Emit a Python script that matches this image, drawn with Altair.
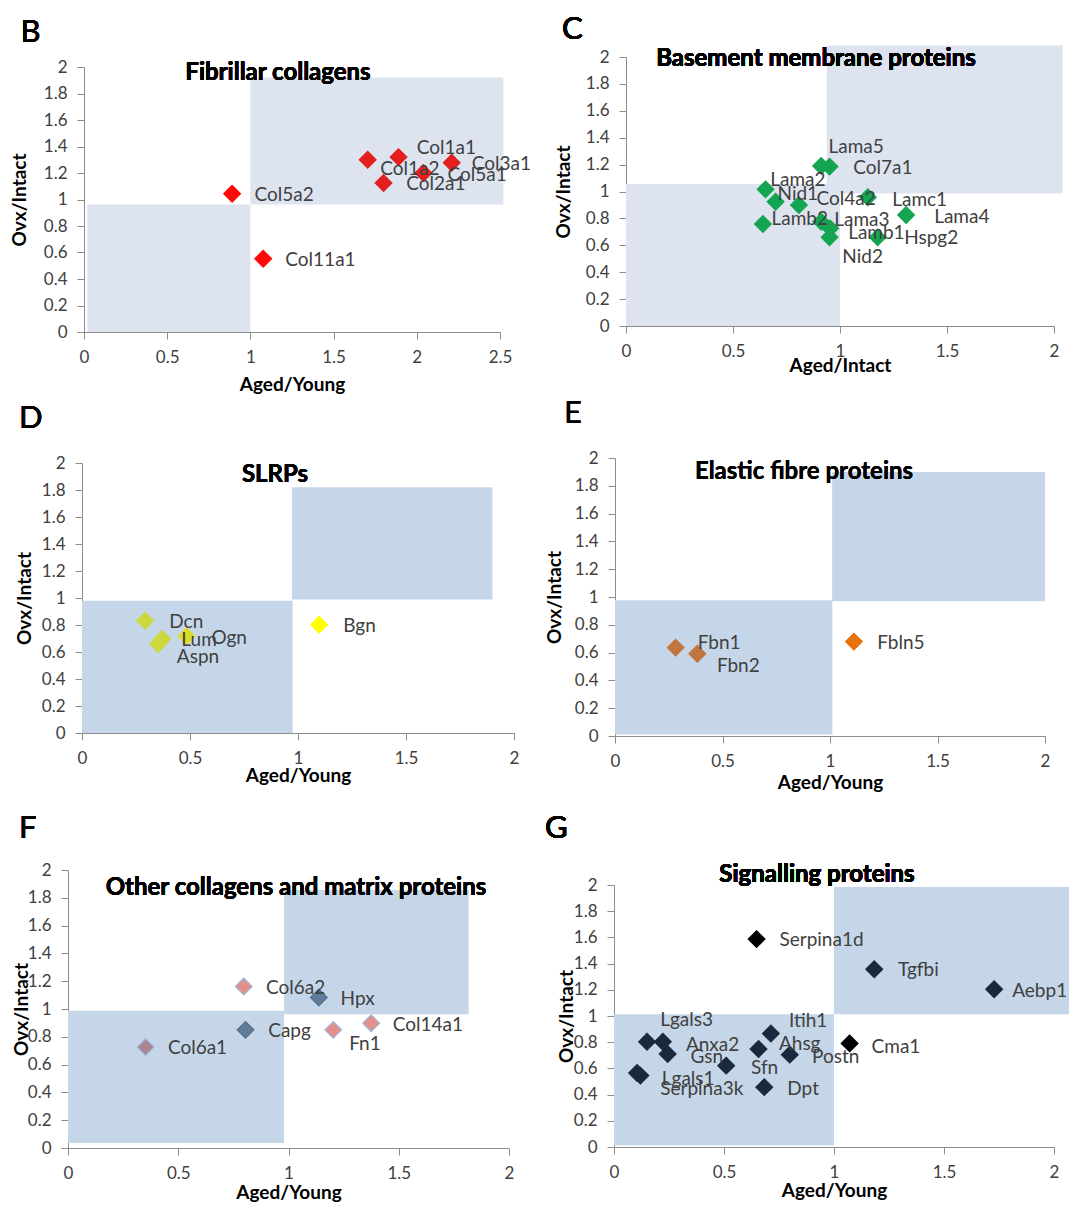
import altair as alt
import pandas as pd

FONT = "Lato"
AXIS_GREY = "#8c8c8c"
TEXT_GREY = "#404040"
BOX_LIGHT = "#dde4f0"
BOX_MID = "#c6d6e9"

# ---------------- data ----------------
# Panel B - Fibrillar collagens
B_genes = ["Col1a1", "Col1a2", "Col2a1", "Col3a1", "Col5a1", "Col5a2", "Col11a1"]
B_aged = [1.89, 1.705, 1.80, 2.21, 2.04, 0.89, 1.077]
B_ovx = [1.32, 1.30, 1.125, 1.278, 1.20, 1.044, 0.553]
B_fill = ["#e3201e", "#e3201e", "#e3201e", "#e3201e", "#e3201e", "#ff0a0a", "#ff0a0a"]
B_lab_x = [2.0, 1.78, 1.937, 2.33, 2.185, 1.025, 1.21]
B_lab_y = [1.39, 1.233, 1.12, 1.27, 1.182, 1.031, 0.541]
B_box_x1 = [0.02, 1.0]
B_box_x2 = [1.0, 2.52]
B_box_y1 = [0.0, 0.963]
B_box_y2 = [0.963, 1.92]

# Panel C - Basement membrane proteins
C_genes = ["Lama2", "Nid1", "Col4a2", "Lamb2", "Lama5", "Col7a1", "Lamc1", "Lama4",
           "Lama3", "Lamb1", "Nid2", "Hspg2"]
C_aged = [0.652, 0.699, 0.808, 0.64, 0.912, 0.951, 1.13, 1.309, 0.912, 0.954, 0.951, 1.176]
C_ovx = [1.016, 0.924, 0.899, 0.758, 1.19, 1.185, 0.957, 0.825, 0.775, 0.726, 0.659, 0.659]
C_fill = ["#14a550"] * 12
C_lab_x = [0.674, 0.708, 0.89, 0.68, 0.946, 1.062, 1.244, 1.44, 0.973, 1.038, 1.011, 1.30]
C_lab_y = [1.086, 0.979, 0.942, 0.795, 1.334, 1.173, 0.937, 0.812, 0.788, 0.689, 0.514, 0.656]
C_box_x1 = [0.0, 0.938]
C_box_x2 = [1.0, 2.04]
C_box_y1 = [0.0, 0.986]
C_box_y2 = [1.056, 2.085]

# Panel D - SLRPs
D_genes = ["Dcn", "Lum", "Aspn", "Ogn", "Bgn"]
D_aged = [0.292, 0.372, 0.353, 0.484, 1.098]
D_ovx = [0.832, 0.696, 0.659, 0.716, 0.802]
D_fill = ["#cbd93f", "#cbd93f", "#cbd93f", "#dcdc2a", "#ffff00"]
D_lab_x = [0.404, 0.46, 0.439, 0.599, 1.21]
D_lab_y = [0.82, 0.69, 0.563, 0.704, 0.79]
D_box_x1 = [0.0, 0.972]
D_box_x2 = [0.975, 1.9]
D_box_y1 = [0.0, 0.988]
D_box_y2 = [0.98, 1.82]

# Panel E - Elastic fibre proteins
E_genes = ["Fbn1", "Fbn2", "Fbln5"]
E_aged = [0.282, 0.383, 1.111]
E_ovx = [0.636, 0.592, 0.679]
E_fill = ["#c0763e", "#c0763e", "#e8720c"]
E_lab_x = [0.385, 0.474, 1.22]
E_lab_y = [0.669, 0.504, 0.669]
E_box_x1 = [0.0, 1.01]
E_box_x2 = [1.011, 2.0]
E_box_y1 = [0.01, 0.97]
E_box_y2 = [0.976, 1.90]

# Panel F - Other collagens and matrix proteins
F_genes = ["Col6a2", "Hpx", "Capg", "Fn1", "Col14a1", "Col6a1"]
F_aged = [0.797, 1.1375, 0.805, 1.203, 1.375, 0.352]
F_ovx = [1.162, 1.083, 0.85, 0.85, 0.898, 0.726]
F_fill = ["#e0918c", "#617c98", "#617c98", "#e0918c", "#e0918c", "#a9858f"]
F_edge = ["#9fb5da", "#52708f", "#52708f", "#9fb5da", "#9fb5da", "#9fb5da"]
F_lab_x = [0.898, 1.236, 0.908, 1.275, 1.473, 0.453]
F_lab_y = [1.15, 1.071, 0.843, 0.747, 0.886, 0.719]
F_box_x1 = [0.0, 0.98]
F_box_x2 = [0.98, 1.817]
F_box_y1 = [0.036, 0.963]
F_box_y2 = [0.987, 1.856]

# Panel G - Signalling proteins
G_genes = ["Serpina1d", "Tgfbi", "Aebp1", "Cma1", "Lgals3", "Anxa2", "Gsn", "Lgals1",
           "Serpina3k", "Sfn", "Ahsg", "Itih1", "Postn", "Dpt"]
G_aged = [0.648, 1.183, 1.728, 1.071, 0.15, 0.222, 0.244, 0.105, 0.12, 0.51, 0.657, 0.713,
          0.799, 0.683]
G_ovx = [1.587, 1.357, 1.204, 0.791, 0.803, 0.803, 0.71, 0.565, 0.545, 0.621, 0.748, 0.866,
         0.705, 0.457]
G_fill = ["#000000", "#1a2a3c", "#1a2a3c", "#000000"] + ["#1a2a3c"] * 10
G_lab_x = [0.752, 1.291, 1.81, 1.171, 0.21, 0.327, 0.348, 0.217, 0.21, 0.623, 0.75, 0.795,
           0.90, 0.788]
G_lab_y = [1.582, 1.352, 1.194, 0.765, 0.967, 0.778, 0.689, 0.52, 0.445, 0.604, 0.786, 0.962,
           0.689, 0.445]
G_box_x1 = [0.0, 1.0]
G_box_x2 = [1.0, 2.07]
G_box_y1 = [0.013, 1.013]
G_box_y2 = [1.013, 1.985]

Y_TICKS = [0, 0.2, 0.4, 0.6, 0.8, 1, 1.2, 1.4, 1.6, 1.8, 2]
X_TICKS_25 = [0, 0.5, 1, 1.5, 2, 2.5]
X_TICKS_2 = [0, 0.5, 1, 1.5, 2]

# ---------------- layout (page pixels) ----------------
MARGIN = 8
W, H = 1061, 1197


def panel(letter, title, xtitle, xmax, xticks, genes, xs, ys, fills, edges, lx, ly,
          bx1, bx2, by1, by2, box_color, frame, letter_xy, title_xy, xpad, ypad):
    L, T, R, Bt = [v - MARGIN for v in frame]
    pts = pd.DataFrame({"gene": genes, "x": xs, "y": ys, "fill": fills, "edge": edges,
                        "lx": lx, "ly": ly})
    boxes = pd.DataFrame({"x1": bx1, "x2": bx2, "y1": by1, "y2": by2})
    xs_ = alt.Scale(domain=[0, xmax], range=[L, R], nice=False, zero=False)
    ys_ = alt.Scale(domain=[0, 2], range=[Bt, T], nice=False, zero=False)
    common = dict(grid=False, domainColor=AXIS_GREY, tickColor=AXIS_GREY, tickSize=7,
                  labelFont=FONT, labelFontSize=17, labelColor=TEXT_GREY, labelPadding=10,
                  labelFlush=False, labelOverlap=False, format="~g",
                  titleFont=FONT, titleFontSize=19, titleFontWeight="bold", titleColor="#000000")
    xaxis = alt.Axis(values=xticks, orient="bottom", offset=Bt - H, titlePadding=xpad, **common)
    yaxis = alt.Axis(values=Y_TICKS, orient="left", offset=-L, titlePadding=ypad, **common)

    rects = alt.Chart(boxes).mark_rect(color=box_color).encode(
        x=alt.X("x1:Q", scale=xs_, axis=xaxis, title=xtitle),
        x2="x2",
        y=alt.Y("y1:Q", scale=ys_, axis=yaxis, title="Ovx/Intact"),
        y2="y2",
    )
    dots = alt.Chart(pts).mark_point(shape="diamond", filled=True, size=280, opacity=1,
                                     strokeWidth=1.2).encode(
        x=alt.X("x:Q", scale=xs_, axis=None),
        y=alt.Y("y:Q", scale=ys_, axis=None),
        fill=alt.Fill("fill:N", scale=None),
        stroke=alt.Stroke("edge:N", scale=None),
    )
    labels = alt.Chart(pts).mark_text(align="left", baseline="middle", font=FONT,
                                      fontSize=19, color=TEXT_GREY).encode(
        x=alt.X("lx:Q", scale=xs_, axis=None),
        y=alt.Y("ly:Q", scale=ys_, axis=None),
        text="gene:N",
    )
    ttl = alt.Chart(pts).mark_text(text=title, align="center", baseline="middle", font=FONT,
                                   fontSize=24, fontWeight="bold",
                                   color="#000000").encode(
        x=alt.value(title_xy[0] - MARGIN), y=alt.value(title_xy[1] - MARGIN))
    let = alt.Chart(pts).mark_text(text=letter, align="left", baseline="alphabetic",
                                   font=FONT, fontSize=31, color="#000000").encode(
        x=alt.value(letter_xy[0] - MARGIN), y=alt.value(letter_xy[1] - MARGIN))
    return [rects, dots, labels, ttl, let]


layers = []
layers += panel("B", "Fibrillar collagens", "Aged/Young", 2.5, X_TICKS_25, B_genes, B_aged,
                B_ovx, B_fill, B_fill, B_lab_x, B_lab_y, B_box_x1, B_box_x2, B_box_y1,
                B_box_y2, BOX_LIGHT, (84, 67, 500, 332), (20.5, 42), (278, 73.3), 10.5, 14)
layers += panel("C", "Basement membrane proteins", "Aged/Intact", 2, X_TICKS_2, C_genes,
                C_aged, C_ovx, C_fill, C_fill, C_lab_x, C_lab_y, C_box_x1, C_box_x2, C_box_y1,
                C_box_y2, BOX_LIGHT, (626, 57, 1054, 326), (562, 39), (816, 59.3), -2.5, 12)
layers += panel("D", "SLRPs", "Aged/Young", 2, X_TICKS_2, D_genes, D_aged, D_ovx, D_fill,
                D_fill, D_lab_x, D_lab_y, D_box_x1, D_box_x2, D_box_y1, D_box_y2, BOX_MID,
                (82, 463, 514, 733), (19, 428), (275, 475), 0, 7)
layers += panel("E", "Elastic fibre proteins", "Aged/Young", 2, X_TICKS_2, E_genes, E_aged,
                E_ovx, E_fill, E_fill, E_lab_x, E_lab_y, E_box_x1, E_box_x2, E_box_y1,
                E_box_y2, BOX_MID, (615, 458, 1045, 736), (564, 423), (804, 471.7), 4, 10)
layers += panel("F", "Other collagens and matrix proteins", "Aged/Young", 2, X_TICKS_2,
                F_genes, F_aged, F_ovx, F_fill, F_edge, F_lab_x, F_lab_y, F_box_x1, F_box_x2,
                F_box_y1, F_box_y2, BOX_MID, (68, 870, 509, 1148), (19, 838), (296, 888.3),
                2, -4)
layers += panel("G", "Signalling proteins", "Aged/Young", 2, X_TICKS_2, G_genes, G_aged,
                G_ovx, G_fill, G_fill, G_lab_x, G_lab_y, G_box_x1, G_box_x2, G_box_y1,
                G_box_y2, BOX_MID, (614, 885, 1054, 1147), (545, 838), (817, 875), 1, -3)

chart = alt.layer(*layers).resolve_scale(x="independent", y="independent").resolve_axis(
    x="independent", y="independent").properties(
    width=W, height=H, padding=0, autosize=alt.AutoSizeParams(type="none")
).configure_view(stroke=None)

chart.save("out.html", embed_options={"renderer": "svg", "actions": False})
